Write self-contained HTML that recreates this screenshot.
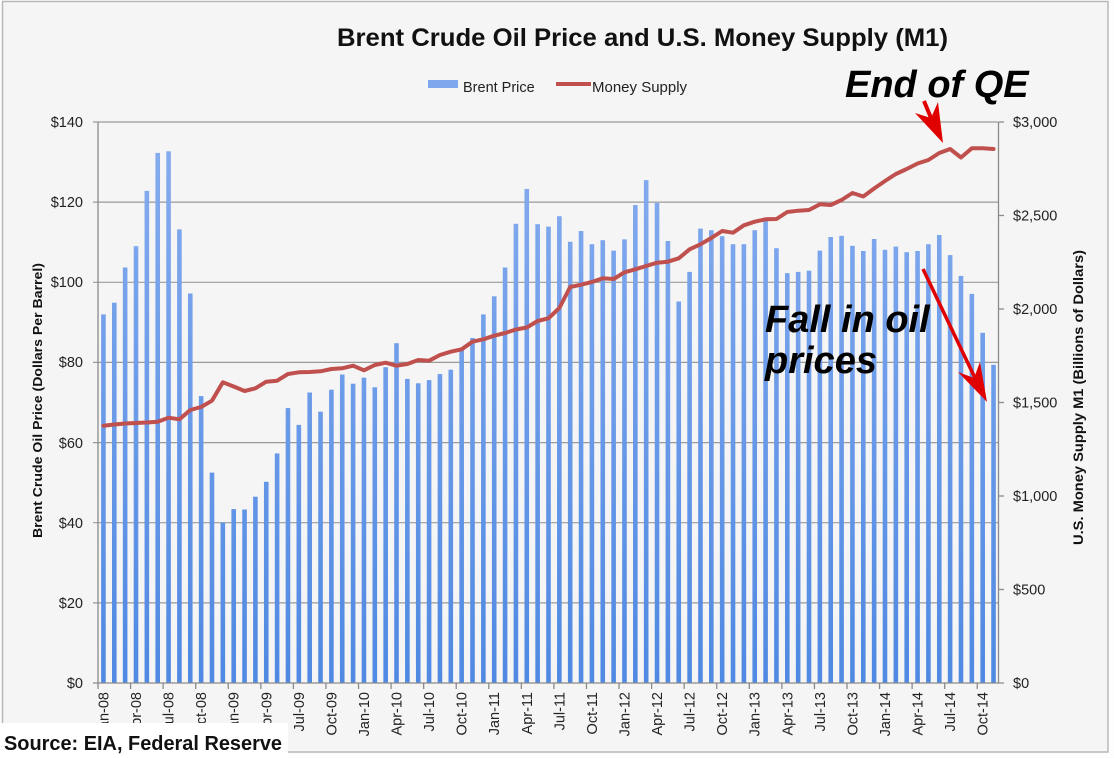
<!DOCTYPE html>
<html><head><meta charset="utf-8"><style>
html,body{margin:0;padding:0;background:#fdfdfd;}
svg{display:block;font-family:"Liberation Sans",Arial,sans-serif;}
</style></head><body>
<svg width="1114" height="758" viewBox="0 0 1114 758" xmlns="http://www.w3.org/2000/svg">
<defs>
<linearGradient id="bg" gradientUnits="userSpaceOnUse" x1="0" y1="122" x2="0" y2="683">
<stop offset="0" stop-color="#88adef"/><stop offset="1" stop-color="#4f89e2"/>
</linearGradient>
</defs>
<rect x="0" y="0" width="1114" height="758" fill="#fdfdfd"/>
<rect x="2.5" y="1.5" width="1105.5" height="750.5" fill="#f5f5f5" stroke="#b8b8b8" stroke-width="1.5"/>

<text x="337" y="46" font-size="25" font-weight="bold" fill="#111" textLength="611" lengthAdjust="spacingAndGlyphs">Brent Crude Oil Price and U.S. Money Supply (M1)</text>

<rect x="428" y="80" width="30" height="8" fill="#7ea7ee"/>
<text x="463" y="92" font-size="14.5" fill="#222">Brent Price</text>
<line x1="556" y1="84" x2="591" y2="84" stroke="#c0504d" stroke-width="4"/>
<text x="592" y="92" font-size="15" fill="#222">Money Supply</text>

<g stroke="#9a9a9a" stroke-width="1.2">
<line x1="93" y1="122" x2="998" y2="122"/>
<line x1="93" y1="202.1" x2="998" y2="202.1"/>
<line x1="93" y1="282.3" x2="998" y2="282.3"/>
<line x1="93" y1="362.4" x2="998" y2="362.4"/>
<line x1="93" y1="442.6" x2="998" y2="442.6"/>
<line x1="93" y1="522.7" x2="998" y2="522.7"/>
<line x1="93" y1="602.9" x2="998" y2="602.9"/>
</g>

<g fill="url(#bg)">
<rect x="101.13" y="314.4" width="4.6" height="368.6"/>
<rect x="111.99" y="302.7" width="4.6" height="380.3"/>
<rect x="122.84" y="267.5" width="4.6" height="415.5"/>
<rect x="133.70" y="246.2" width="4.6" height="436.8"/>
<rect x="144.55" y="190.9" width="4.6" height="492.1"/>
<rect x="155.41" y="152.9" width="4.6" height="530.1"/>
<rect x="166.26" y="151.3" width="4.6" height="531.7"/>
<rect x="177.12" y="229.4" width="4.6" height="453.6"/>
<rect x="187.97" y="293.5" width="4.6" height="389.5"/>
<rect x="198.83" y="396.1" width="4.6" height="286.9"/>
<rect x="209.68" y="472.6" width="4.6" height="210.4"/>
<rect x="220.54" y="522.7" width="4.6" height="160.3"/>
<rect x="231.39" y="509.1" width="4.6" height="173.9"/>
<rect x="242.25" y="509.5" width="4.6" height="173.5"/>
<rect x="253.10" y="496.7" width="4.6" height="186.3"/>
<rect x="263.96" y="481.8" width="4.6" height="201.2"/>
<rect x="274.81" y="453.4" width="4.6" height="229.6"/>
<rect x="285.67" y="408.1" width="4.6" height="274.9"/>
<rect x="296.52" y="424.9" width="4.6" height="258.1"/>
<rect x="307.38" y="392.5" width="4.6" height="290.5"/>
<rect x="318.23" y="411.7" width="4.6" height="271.3"/>
<rect x="329.09" y="389.7" width="4.6" height="293.3"/>
<rect x="339.94" y="374.5" width="4.6" height="308.5"/>
<rect x="350.80" y="383.7" width="4.6" height="299.3"/>
<rect x="361.65" y="377.7" width="4.6" height="305.3"/>
<rect x="372.51" y="387.3" width="4.6" height="295.7"/>
<rect x="383.36" y="367.2" width="4.6" height="315.8"/>
<rect x="394.22" y="343.2" width="4.6" height="339.8"/>
<rect x="405.07" y="378.9" width="4.6" height="304.1"/>
<rect x="415.93" y="383.3" width="4.6" height="299.7"/>
<rect x="426.78" y="380.1" width="4.6" height="302.9"/>
<rect x="437.64" y="374.1" width="4.6" height="308.9"/>
<rect x="448.49" y="369.7" width="4.6" height="313.3"/>
<rect x="459.35" y="348.4" width="4.6" height="334.6"/>
<rect x="470.20" y="338.0" width="4.6" height="345.0"/>
<rect x="481.06" y="314.4" width="4.6" height="368.6"/>
<rect x="491.91" y="296.3" width="4.6" height="386.7"/>
<rect x="502.77" y="267.5" width="4.6" height="415.5"/>
<rect x="513.62" y="223.8" width="4.6" height="459.2"/>
<rect x="524.48" y="188.9" width="4.6" height="494.1"/>
<rect x="535.33" y="224.2" width="4.6" height="458.8"/>
<rect x="546.19" y="226.6" width="4.6" height="456.4"/>
<rect x="557.04" y="216.2" width="4.6" height="466.8"/>
<rect x="567.90" y="241.8" width="4.6" height="441.2"/>
<rect x="578.75" y="231.0" width="4.6" height="452.0"/>
<rect x="589.61" y="244.2" width="4.6" height="438.8"/>
<rect x="600.46" y="240.2" width="4.6" height="442.8"/>
<rect x="611.32" y="250.6" width="4.6" height="432.4"/>
<rect x="622.17" y="239.4" width="4.6" height="443.6"/>
<rect x="633.03" y="205.0" width="4.6" height="478.0"/>
<rect x="643.88" y="180.1" width="4.6" height="502.9"/>
<rect x="654.74" y="203.0" width="4.6" height="480.0"/>
<rect x="665.59" y="241.0" width="4.6" height="442.0"/>
<rect x="676.45" y="301.5" width="4.6" height="381.5"/>
<rect x="687.30" y="271.9" width="4.6" height="411.1"/>
<rect x="698.16" y="228.6" width="4.6" height="454.4"/>
<rect x="709.01" y="230.2" width="4.6" height="452.8"/>
<rect x="719.87" y="236.2" width="4.6" height="446.8"/>
<rect x="730.72" y="244.2" width="4.6" height="438.8"/>
<rect x="741.58" y="244.2" width="4.6" height="438.8"/>
<rect x="752.43" y="230.2" width="4.6" height="452.8"/>
<rect x="763.29" y="217.8" width="4.6" height="465.2"/>
<rect x="774.14" y="248.2" width="4.6" height="434.8"/>
<rect x="785.00" y="273.1" width="4.6" height="409.9"/>
<rect x="795.85" y="271.9" width="4.6" height="411.1"/>
<rect x="806.71" y="270.7" width="4.6" height="412.3"/>
<rect x="817.56" y="250.6" width="4.6" height="432.4"/>
<rect x="828.42" y="237.0" width="4.6" height="446.0"/>
<rect x="839.27" y="235.8" width="4.6" height="447.2"/>
<rect x="850.13" y="245.8" width="4.6" height="437.2"/>
<rect x="860.98" y="251.0" width="4.6" height="432.0"/>
<rect x="871.84" y="239.0" width="4.6" height="444.0"/>
<rect x="882.69" y="249.8" width="4.6" height="433.2"/>
<rect x="893.55" y="246.6" width="4.6" height="436.4"/>
<rect x="904.40" y="252.2" width="4.6" height="430.8"/>
<rect x="915.26" y="251.0" width="4.6" height="432.0"/>
<rect x="926.11" y="244.2" width="4.6" height="438.8"/>
<rect x="936.97" y="235.0" width="4.6" height="448.0"/>
<rect x="947.82" y="255.1" width="4.6" height="427.9"/>
<rect x="958.68" y="275.9" width="4.6" height="407.1"/>
<rect x="969.53" y="293.9" width="4.6" height="389.1"/>
<rect x="980.39" y="332.8" width="4.6" height="350.2"/>
<rect x="991.24" y="364.8" width="4.6" height="318.2"/>
</g>

<polyline fill="none" stroke="#c0504d" stroke-width="4" stroke-linejoin="round" stroke-linecap="round" points="103.43,425.7 114.29,424.5 125.14,423.5 136.0,423 146.85,422.5 157.71,421.7 168.56,417.7 179.42,419.3 190.27,410 201.13,407 211.98,400.7 222.84,382.3 233.69,386.5 244.55,391 255.40,388.3 266.26,381.7 277.11,380.7 287.97,374 298.82,372.3 309.68,372 320.53,371.3 331.39,369 342.24,368.3 353.10,365.7 363.95,370.3 374.81,365 385.66,362.7 396.52,365.7 407.37,364 418.23,360 429.08,360.7 439.94,355 450.79,351.7 461.65,349.3 472.50,341.7 483.36,339.3 494.21,335.7 505.07,333 515.92,329.5 526.78,327.5 537.63,321 548.49,318.3 559.34,308 570.20,287 581.05,284.7 591.91,282 602.76,278.3 613.62,279 624.47,272.3 635.33,269.3 646.18,266 657.04,262.7 667.89,261.7 678.75,258.3 689.60,249.3 700.46,244.3 711.31,238 722.17,231 733.02,232.7 743.88,225.3 754.73,221.7 765.59,219.3 776.44,219 787.30,212 798.15,210.7 809.01,210 819.86,204.3 830.72,205 841.57,200 852.43,193 863.28,196.5 874.14,188.5 884.99,181 895.85,174 906.70,169 917.56,163.5 928.41,160 939.27,153 950.12,149 960.98,157.5 971.83,148.3 982.69,148.3 993.54,149"/>

<g stroke="#8a8a8a" stroke-width="1.3">
<line x1="98" y1="122" x2="98" y2="683"/>
<line x1="998.5" y1="122" x2="998.5" y2="683"/>
<line x1="93" y1="683" x2="1004" y2="683"/>
<line x1="998.5" y1="122" x2="1004" y2="122"/>
<line x1="998.5" y1="215.5" x2="1004" y2="215.5"/>
<line x1="998.5" y1="309" x2="1004" y2="309"/>
<line x1="998.5" y1="402.5" x2="1004" y2="402.5"/>
<line x1="998.5" y1="496" x2="1004" y2="496"/>
<line x1="998.5" y1="589.5" x2="1004" y2="589.5"/>
<line x1="98" y1="683" x2="98" y2="689"/>
<line x1="130.57" y1="683" x2="130.57" y2="689"/>
<line x1="163.13" y1="683" x2="163.13" y2="689"/>
<line x1="195.70" y1="683" x2="195.70" y2="689"/>
<line x1="228.26" y1="683" x2="228.26" y2="689"/>
<line x1="260.83" y1="683" x2="260.83" y2="689"/>
<line x1="293.39" y1="683" x2="293.39" y2="689"/>
<line x1="325.96" y1="683" x2="325.96" y2="689"/>
<line x1="358.52" y1="683" x2="358.52" y2="689"/>
<line x1="391.09" y1="683" x2="391.09" y2="689"/>
<line x1="423.65" y1="683" x2="423.65" y2="689"/>
<line x1="456.22" y1="683" x2="456.22" y2="689"/>
<line x1="488.78" y1="683" x2="488.78" y2="689"/>
<line x1="521.35" y1="683" x2="521.35" y2="689"/>
<line x1="553.91" y1="683" x2="553.91" y2="689"/>
<line x1="586.48" y1="683" x2="586.48" y2="689"/>
<line x1="619.04" y1="683" x2="619.04" y2="689"/>
<line x1="651.61" y1="683" x2="651.61" y2="689"/>
<line x1="684.17" y1="683" x2="684.17" y2="689"/>
<line x1="716.74" y1="683" x2="716.74" y2="689"/>
<line x1="749.30" y1="683" x2="749.30" y2="689"/>
<line x1="781.87" y1="683" x2="781.87" y2="689"/>
<line x1="814.43" y1="683" x2="814.43" y2="689"/>
<line x1="847.00" y1="683" x2="847.00" y2="689"/>
<line x1="879.56" y1="683" x2="879.56" y2="689"/>
<line x1="912.13" y1="683" x2="912.13" y2="689"/>
<line x1="944.69" y1="683" x2="944.69" y2="689"/>
<line x1="977.26" y1="683" x2="977.26" y2="689"/>
</g>

<g font-size="14.5" fill="#222" text-anchor="end">
<text x="83" y="127">$140</text>
<text x="83" y="207">$120</text>
<text x="83" y="287">$100</text>
<text x="83" y="367">$80</text>
<text x="83" y="448">$60</text>
<text x="83" y="528">$40</text>
<text x="83" y="608">$20</text>
<text x="83" y="688">$0</text>
</g>
<g font-size="14.5" fill="#222">
<text x="1013" y="127">$3,000</text>
<text x="1013" y="220.5">$2,500</text>
<text x="1013" y="314">$2,000</text>
<text x="1013" y="407.5">$1,500</text>
<text x="1013" y="501">$1,000</text>
<text x="1013" y="594.5">$500</text>
<text x="1013" y="688">$0</text>
</g>

<text transform="translate(42,400.5) rotate(-90)" text-anchor="middle" font-size="13" font-weight="bold" fill="#111" textLength="275" lengthAdjust="spacingAndGlyphs">Brent Crude Oil Price (Dollars Per Barrel)</text>
<text transform="translate(1083,397.5) rotate(-90)" text-anchor="middle" font-size="13.5" font-weight="bold" fill="#111" textLength="295" lengthAdjust="spacingAndGlyphs">U.S. Money Supply M1 (Billions of Dollars)</text>

<g font-size="14.5" fill="#222" text-anchor="end">
<text transform="translate(108.4,692) rotate(-90)">Jan-08</text>
<text transform="translate(141.0,692) rotate(-90)">Apr-08</text>
<text transform="translate(173.6,692) rotate(-90)">Jul-08</text>
<text transform="translate(206.1,692) rotate(-90)">Oct-08</text>
<text transform="translate(238.7,692) rotate(-90)">Jan-09</text>
<text transform="translate(271.3,692) rotate(-90)">Apr-09</text>
<text transform="translate(303.8,692) rotate(-90)">Jul-09</text>
<text transform="translate(336.4,692) rotate(-90)">Oct-09</text>
<text transform="translate(369.0,692) rotate(-90)">Jan-10</text>
<text transform="translate(401.5,692) rotate(-90)">Apr-10</text>
<text transform="translate(434.1,692) rotate(-90)">Jul-10</text>
<text transform="translate(466.6,692) rotate(-90)">Oct-10</text>
<text transform="translate(499.2,692) rotate(-90)">Jan-11</text>
<text transform="translate(531.8,692) rotate(-90)">Apr-11</text>
<text transform="translate(564.3,692) rotate(-90)">Jul-11</text>
<text transform="translate(596.9,692) rotate(-90)">Oct-11</text>
<text transform="translate(629.5,692) rotate(-90)">Jan-12</text>
<text transform="translate(662.0,692) rotate(-90)">Apr-12</text>
<text transform="translate(694.6,692) rotate(-90)">Jul-12</text>
<text transform="translate(727.2,692) rotate(-90)">Oct-12</text>
<text transform="translate(759.7,692) rotate(-90)">Jan-13</text>
<text transform="translate(792.3,692) rotate(-90)">Apr-13</text>
<text transform="translate(824.9,692) rotate(-90)">Jul-13</text>
<text transform="translate(857.4,692) rotate(-90)">Oct-13</text>
<text transform="translate(890.0,692) rotate(-90)">Jan-14</text>
<text transform="translate(922.6,692) rotate(-90)">Apr-14</text>
<text transform="translate(955.1,692) rotate(-90)">Jul-14</text>
<text transform="translate(987.7,692) rotate(-90)">Oct-14</text>
</g>

<g font-size="38" font-weight="bold" font-style="italic" fill="#000">
<text x="845" y="97">End of QE</text>
<text x="765" y="332">Fall in oil</text>
<text x="765" y="373">prices</text>
</g>

<g fill="#e00000" stroke="none">
<line x1="924" y1="101" x2="931" y2="118" stroke="#e00000" stroke-width="4"/>
<polygon points="943,143 915,113 931,118 938,102"/>
<line x1="923" y1="269" x2="975" y2="378" stroke="#e00000" stroke-width="3.5"/>
<polygon points="987,402 958,372 974,378 980,362"/>
</g>

<rect x="0" y="723" width="288" height="35" fill="#ffffff"/>
<text x="4" y="750" font-size="20" font-weight="bold" fill="#111" textLength="278" lengthAdjust="spacingAndGlyphs">Source:  EIA, Federal Reserve</text>
</svg>
</body></html>
